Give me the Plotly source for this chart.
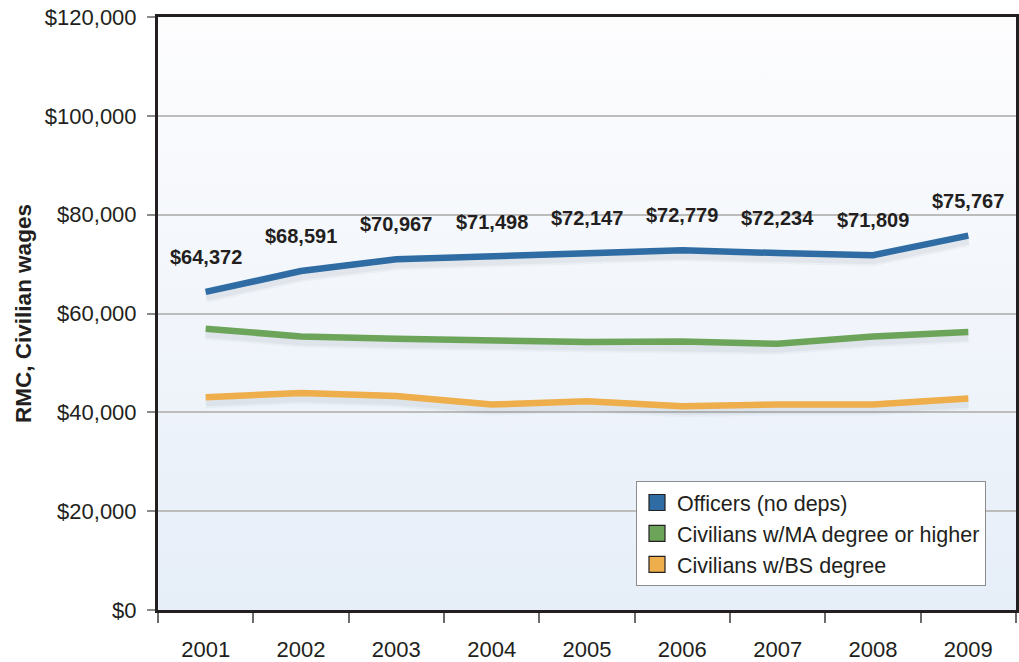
import base64
import plotly.graph_objects as go

# Regular military compensation vs. civilian wages, 2001-2009
years = ["2001", "2002", "2003", "2004", "2005", "2006", "2007", "2008", "2009"]
officers = [64372, 68591, 70967, 71498, 72147, 72779, 72234, 71809, 75767]
civ_ma = [56930, 55350, 54880, 54620, 54210, 54330, 53860, 55350, 56250]
civ_bs = [43070, 43890, 43280, 41580, 42250, 41230, 41580, 41580, 42800]

series_names = ["Officers (no deps)", "Civilians w/MA degree or higher", "Civilians w/BS degree"]
series_colors = ["#2f6ca3", "#6ca55a", "#eeae4b"]
series_values = [officers, civ_ma, civ_bs]

y_ticks = [0, 20000, 40000, 60000, 80000, 100000, 120000]

W, H = 1019, 662
margin = dict(l=158, r=3, t=17, b=52)
y_max = 120000
plot_h = H - margin["t"] - margin["b"]
units_per_px = y_max / plot_h

FONT = "Liberation Sans, Arial, sans-serif"
TEXT = "#231f20"

# years sit at integer positions; ticks fall on the boundaries between them
xpos = list(range(len(years)))

fig = go.Figure()

# soft drop shadow under each line
shadow_dy = 4 * units_per_px
for vals in series_values:
    for w, a in [(14, 0.035), (10, 0.05)]:
        fig.add_trace(go.Scatter(
            x=xpos, y=[v - shadow_dy for v in vals], mode="lines",
            line=dict(color=f"rgba(40,50,70,{a})", width=w),
            hoverinfo="skip", showlegend=False,
        ))

for name, color, vals in zip(series_names, series_colors, series_values):
    fig.add_trace(go.Scatter(
        x=xpos, y=vals, mode="lines", name=name,
        line=dict(color=color, width=6.5),
        showlegend=False,
    ))

# square legend swatches
for name, color in zip(series_names, series_colors):
    fig.add_trace(go.Scatter(
        x=[None], y=[None], mode="markers", name=name,
        marker=dict(symbol="square", size=16, color=color,
                    line=dict(color=TEXT, width=1.2)),
    ))

# value labels above the officers line
for xi, v in zip(xpos, officers):
    fig.add_annotation(
        x=xi, y=v, text=f"${v:,}", showarrow=False, yshift=35,
        font=dict(family=FONT, size=20, color=TEXT, weight="bold"),
    )

# vertical gradient for the plotting area
svg = (
    '<svg xmlns="http://www.w3.org/2000/svg" width="10" height="100" preserveAspectRatio="none">'
    '<defs><linearGradient id="g" x1="0" y1="0" x2="0" y2="1">'
    '<stop offset="0" stop-color="#fdfdfe"/><stop offset="1" stop-color="#e6eef8"/>'
    '</linearGradient></defs><rect width="10" height="100" fill="url(#g)"/></svg>'
)
svg_uri = "data:image/svg+xml;base64," + base64.b64encode(svg.encode()).decode()
fig.add_layout_image(
    source=svg_uri, xref="paper", yref="paper", x=0, y=1,
    sizex=1, sizey=1, xanchor="left", yanchor="top",
    sizing="stretch", layer="below",
)

fig.update_layout(
    width=W, height=H, margin=margin,
    paper_bgcolor="white", plot_bgcolor="rgba(0,0,0,0)",
    font=dict(family=FONT, color=TEXT),
    legend=dict(
        x=(636 - margin["l"]) / (W - margin["l"] - margin["r"]),
        y=(H - margin["b"] - 481) / plot_h,
        xanchor="left", yanchor="top",
        bgcolor="white", bordercolor="#8c8c8c", borderwidth=1,
        font=dict(family=FONT, size=21.5, color=TEXT),
        tracegroupgap=0,
    ),
)

fig.update_xaxes(
    range=[-0.5, len(years) - 0.5], tickvals=xpos, ticktext=years,
    ticks="outside", ticklen=0, tickangle=0, ticklabelstandoff=18,
    tickfont=dict(family=FONT, size=22, color=TEXT),
    minor=dict(tick0=-0.5, dtick=1, ticks="outside", ticklen=10,
               tickwidth=1.5, tickcolor="#6b6b6b", showgrid=False),
    showline=True, linecolor=TEXT, linewidth=3, mirror=True,
    showgrid=False, zeroline=False, automargin=False,
)

fig.update_yaxes(
    range=[0, y_max], tickvals=y_ticks, tickformat="$,",
    ticks="outside", ticklen=8, tickwidth=1.5, tickcolor="#8a8a8a",
    ticklabelstandoff=6,
    tickfont=dict(family=FONT, size=22, color=TEXT),
    showgrid=True, gridcolor="#bcbcbc", gridwidth=1.5,
    showline=True, linecolor=TEXT, linewidth=3, mirror=True,
    zeroline=False, automargin=False,
    title=dict(text="RMC, Civilian wages", standoff=7,
               font=dict(family=FONT, size=22.5, color=TEXT, weight="bold")),
)

fig.write_html("out.html")
